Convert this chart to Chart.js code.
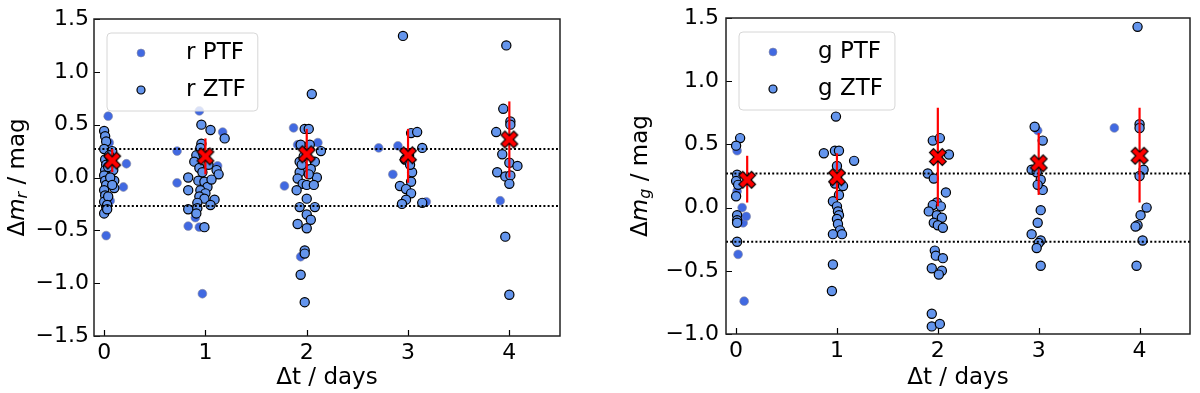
<!DOCTYPE html>
<html>
<head>
<meta charset="utf-8">
<script src="https://cdn.jsdelivr.net/npm/chart.js@4.4.1/dist/chart.umd.min.js"></script>
<style>
  html, body { margin: 0; padding: 0; background: #fff; }
  #wrap { position: relative; width: 1200px; height: 393px; }
  canvas { position: absolute; top: 0; }
  #left { left: 0; }
  #right { left: 600px; }
</style>
</head>
<body>
<div id="wrap">
  <canvas id="left" width="600" height="393"></canvas>
  <canvas id="right" width="600" height="393"></canvas>
</div>
<script>
// ticks
var xTicks = [0, 1, 2, 3, 4];
var rTicks = [-1.5, -1, -0.5, 0, 0.5, 1, 1.5];
var gTicks = [-1, -0.5, 0, 0.5, 1, 1.5];
var spreadLimit = [0.27, -0.27];

// r band, [dt, dm]
var rPTF = [[0.04,0.58],[0.02,-0.55],[0.22,0.13],[0.19,-0.09],[0.05,0.33],[0.06,-0.22],
  [0.94,0.63],[0.72,0.25],[0.72,-0.05],[0.83,-0.46],[0.94,-0.47],[0.97,-1.10],[1.17,0.43],[1.12,0.11],[0.90,-0.38],
  [1.87,0.47],[1.91,0.31],[2.11,0.33],[1.78,-0.08],[1.94,-0.75],
  [2.71,0.28],[2.90,0.30],[2.85,0.03],[3.18,-0.23],
  [3.91,-0.22]];
var rZTF = [[0.00,0.44],[0.01,0.39],[0.02,0.34],[0.00,0.27],[0.08,0.25],[0.01,0.17],[0.02,0.12],[0.01,0.07],
  [0.00,0.02],[0.01,-0.03],[0.02,-0.07],[0.00,-0.12],[0.01,-0.17],[0.00,-0.23],[0.02,-0.28],[0.00,-0.34],
  [0.10,-0.03],[0.10,-0.10],[0.09,0.07],[0.07,0.17],[0.05,0.21],[0.04,-0.18],[0.03,-0.26],[0.06,0.00],
  [0.04,0.10],[0.03,-0.30],[0.08,-0.07],
  [0.96,0.50],[1.05,0.45],[1.19,0.37],[0.96,0.32],[0.95,0.28],[0.91,0.21],[0.89,0.15],[0.94,0.09],[1.11,0.07],
  [1.13,0.03],[0.83,0.00],[0.83,-0.12],[0.93,-0.03],[0.99,-0.04],[1.02,-0.09],[0.95,-0.12],[1.00,-0.15],
  [0.94,-0.18],[0.99,-0.20],[1.09,-0.21],[1.05,-0.26],[0.92,-0.24],[0.83,-0.30],[0.92,-0.29],[0.91,-0.34],
  [0.99,-0.47],[0.98,0.22],[1.03,0.12],[0.97,0.05],[1.06,-0.02],
  [2.05,0.79],[1.98,0.46],[2.02,0.46],[1.94,0.31],[2.03,0.31],[2.14,0.25],[2.08,0.15],[1.93,0.15],[1.98,0.09],
  [2.04,0.08],[1.93,0.05],[2.10,0.00],[1.91,-0.01],[1.96,-0.06],[2.00,-0.07],[2.07,-0.07],[1.90,-0.12],
  [2.00,-0.20],[1.93,-0.28],[2.08,-0.28],[2.00,-0.35],[2.04,-0.40],[1.91,-0.44],[2.00,-0.48],[1.98,-0.69],
  [1.98,-0.72],[1.94,-0.92],[1.98,-1.18],[1.97,0.20],[2.02,0.03],[1.95,0.12],
  [2.95,1.34],[3.03,0.42],[3.09,0.43],[3.14,0.28],[2.97,0.17],[3.04,0.05],[3.03,-0.04],[2.92,-0.08],
  [2.98,-0.11],[3.03,-0.15],[2.98,-0.21],[2.94,-0.25],[3.14,-0.24],[3.01,0.21],[3.02,0.12],
  [3.97,1.25],[3.94,0.65],[4.01,0.53],[4.01,0.50],[3.87,0.43],[3.93,0.22],[4.00,0.14],[4.08,0.11],
  [3.88,0.05],[3.96,0.01],[4.01,0.02],[4.00,-0.06],[3.96,-0.56],[4.00,-1.11]];
var rMeanT = [0.08, 1.0, 2.0, 3.0, 4.0];
var rMean = [0.16, 0.20, 0.22, 0.21, 0.36];
var rLow = [0.05, 0.03, -0.01, -0.05, 0.00];
var rHigh = [0.27, 0.37, 0.46, 0.46, 0.72];

// g band
var gPTF = [[0.01,0.45],[0.01,0.13],[0.06,0.00],[0.07,-0.12],[0.10,-0.07],[0.02,-0.37],[0.08,-0.74],
  [2.99,0.61],[3.75,0.63]];
var gZTF = [[0.04,0.55],[0.00,0.49],[0.01,0.26],[0.00,0.21],[0.02,0.18],[0.00,0.09],[0.01,-0.06],[0.01,-0.10],
  [0.01,-0.12],[0.01,-0.27],
  [0.99,0.72],[0.87,0.43],[0.98,0.45],[1.02,0.45],[1.17,0.37],[1.00,0.33],[0.98,0.19],[1.06,0.17],[1.02,0.10],
  [0.96,0.05],[1.00,0.01],[1.01,-0.03],[1.02,-0.06],[1.00,-0.09],[1.01,-0.13],[1.03,-0.18],[0.96,-0.21],
  [1.05,-0.21],[0.96,-0.45],[0.95,-0.66],
  [1.95,0.53],[2.02,0.55],[2.11,0.42],[1.90,0.27],[1.96,0.23],[2.08,0.12],[1.99,0.04],[1.95,0.02],[2.03,0.01],
  [1.91,-0.03],[1.99,-0.06],[2.04,-0.08],[1.96,-0.12],[2.00,-0.14],[2.05,-0.16],[1.97,-0.34],[1.98,-0.38],
  [2.05,-0.40],[1.94,-0.48],[2.04,-0.50],[2.01,-0.53],[1.94,-0.84],[1.94,-0.94],[2.02,-0.92],
  [2.96,0.64],[3.04,0.53],[2.93,0.30],[2.98,0.28],[3.02,0.22],[3.04,0.14],[2.99,0.18],[3.02,-0.02],
  [2.99,-0.12],[2.93,-0.21],[3.02,-0.26],[3.00,-0.28],[2.98,-0.32],[3.02,-0.46],
  [3.98,1.43],[4.00,0.66],[4.00,0.63],[4.04,0.30],[4.00,0.25],[4.07,0.00],[4.01,-0.06],[3.98,-0.14],
  [3.96,-0.15],[4.03,-0.26],[3.97,-0.46]];
var gMeanT = [0.11, 1.0, 2.0, 3.0, 4.0];
var gMean = [0.22, 0.24, 0.40, 0.35, 0.41];
var gLow = [0.04, 0.06, 0.01, 0.10, 0.04];
var gHigh = [0.41, 0.43, 0.79, 0.59, 0.79];

var FONT = 'DejaVu Sans';
var PTF_FILL = '#4169e1';
var ZTF_FILL = '#6495ed';

function toPoints(pairs) {
  return pairs.map(function (p) { return { x: p[0], y: p[1] }; });
}

function fmt1(v) {
  var s = Math.abs(v).toFixed(1);
  return v < 0 ? '\u2212' + s : s;
}

// filled "X" marker like matplotlib's 'X'
function makeCross() {
  var c = document.createElement('canvas');
  c.width = 22; c.height = 22;
  var ctx = c.getContext('2d');
  var L = 9, w = 2.8;
  var pts = [[w,L],[w,w],[L,w],[L,-w],[w,-w],[w,-L],[-w,-L],[-w,-w],[-L,-w],[-L,w],[-w,w],[-w,L]];
  ctx.translate(11, 11);
  ctx.rotate(Math.PI / 4);
  ctx.beginPath();
  pts.forEach(function (p, i) { if (i) ctx.lineTo(p[0], p[1]); else ctx.moveTo(p[0], p[1]); });
  ctx.closePath();
  ctx.fillStyle = '#ff0000';
  ctx.fill();
  ctx.lineWidth = 1.2;
  ctx.strokeStyle = '#000';
  ctx.stroke();
  return c;
}
var crossImg = makeCross();

var framePlugin = {
  id: 'frame',
  afterDraw: function (chart, args, o) {
    var ctx = chart.ctx, ca = chart.chartArea;
    var xs = chart.scales.x, ys = chart.scales.y;
    ctx.save();
    // inward ticks
    ctx.strokeStyle = '#000';
    ctx.lineWidth = 1.2;
    ctx.beginPath();
    xs.ticks.forEach(function (t) {
      var px = Math.round(xs.getPixelForValue(t.value)) + 0.5;
      ctx.moveTo(px, ca.bottom); ctx.lineTo(px, ca.bottom - 6);
    });
    ys.ticks.forEach(function (t) {
      var py = Math.round(ys.getPixelForValue(t.value)) + 0.5;
      ctx.moveTo(ca.left, py); ctx.lineTo(ca.left + 6, py);
    });
    ctx.stroke();
    // spines
    ctx.strokeStyle = '#222';
    ctx.lineWidth = 1.5;
    ctx.strokeRect(ca.left, ca.top, ca.right - ca.left, ca.bottom - ca.top);

    // legend box
    var ds = chart.data.datasets;
    ctx.font = '23px ' + FONT;
    var tw = Math.max(ctx.measureText(ds[0].label).width, ctx.measureText(ds[1].label).width);
    var bx = ca.left + 13, by = ca.top + 14, bw = 80 + tw + 11, bh = 78;
    ctx.beginPath();
    ctx.roundRect(bx, by, bw, bh, 4);
    ctx.fillStyle = 'rgba(255,255,255,0.8)';
    ctx.fill();
    ctx.strokeStyle = '#d6d6d6';
    ctx.lineWidth = 1;
    ctx.stroke();
    [0, 1].forEach(function (i) {
      var cy = by + 20 + i * 37;
      ctx.beginPath();
      ctx.arc(bx + 34, cy, 4, 0, Math.PI * 2);
      ctx.fillStyle = ds[i].backgroundColor;
      ctx.fill();
      ctx.lineWidth = ds[i].borderWidth;
      ctx.strokeStyle = ds[i].borderColor;
      ctx.stroke();
      ctx.fillStyle = '#000';
      ctx.textBaseline = 'middle';
      ctx.textAlign = 'left';
      ctx.fillText(ds[i].label, bx + 79, cy);
    });

    // y title with subscript
    var parts = [
      { t: '\u0394', f: '23px ' + FONT, dy: 0 },
      { t: 'm', f: 'italic 23px ' + FONT, dy: 0 },
      { t: o.sub, f: 'italic 16px ' + FONT, dy: 5 },
      { t: ' / mag', f: '23px ' + FONT, dy: 0 }
    ];
    var total = 0;
    parts.forEach(function (p) { ctx.font = p.f; p.w = ctx.measureText(p.t).width; total += p.w; });
    ctx.translate(o.titleX, (ca.top + ca.bottom) / 2);
    ctx.rotate(-Math.PI / 2);
    ctx.textBaseline = 'middle';
    var x0 = -total / 2;
    parts.forEach(function (p) {
      ctx.font = p.f;
      ctx.fillText(p.t, x0, p.dy);
      x0 += p.w;
    });
    ctx.restore();
  }
};

function buildChart(id, band, ptf, ztf, meanT, mean, low, high, yTicks, geo) {
  var datasets = [
    { label: band + ' PTF', data: toPoints(ptf), backgroundColor: PTF_FILL,
      borderColor: 'rgba(140,140,160,0.6)', borderWidth: 1, pointRadius: 4.4, order: 6 },
    { label: band + ' ZTF', data: toPoints(ztf), backgroundColor: ZTF_FILL,
      borderColor: '#000', borderWidth: 1.2, pointRadius: 4.6, order: 5 }
  ];
  spreadLimit.forEach(function (lim) {
    datasets.push({ data: [{ x: -0.1, y: lim }, { x: 4.5, y: lim }], showLine: true,
      borderColor: '#000', borderWidth: 2, borderDash: [2, 2.2], pointRadius: 0, order: 4 });
  });
  meanT.forEach(function (t, i) {
    datasets.push({ data: [{ x: t, y: low[i] }, { x: t, y: high[i] }], showLine: true,
      borderColor: '#ff0000', borderWidth: 2.2, pointRadius: 0, order: 3 });
  });
  datasets.push({ data: meanT.map(function (t, i) { return { x: t, y: mean[i] }; }),
    pointStyle: crossImg, pointRadius: 9, order: 1 });

  return new Chart(document.getElementById(id), {
    type: 'scatter',
    data: { datasets: datasets },
    options: {
      responsive: false,
      animation: false,
      layout: { padding: { top: geo.top, right: geo.right, left: 0, bottom: 0 } },
      plugins: {
        legend: { display: false },
        tooltip: { enabled: false },
        frame: { sub: band, titleX: geo.titleX }
      },
      scales: {
        x: {
          type: 'linear', min: -0.1, max: 4.5,
          afterBuildTicks: function (s) { s.ticks = xTicks.map(function (v) { return { value: v }; }); },
          afterFit: function (s) { s.height = geo.xh; },
          grid: { display: false, drawTicks: false },
          border: { display: false },
          ticks: { font: { family: FONT, size: 22, lineHeight: 1 }, color: '#000', padding: 6,
            callback: function (v) { return String(v); } },
          title: { display: true, text: '\u0394t / days', color: '#000',
            font: { family: FONT, size: 23 }, padding: { top: 0, bottom: 1 } }
        },
        y: {
          type: 'linear', min: yTicks[0], max: yTicks[yTicks.length - 1],
          afterBuildTicks: function (s) { s.ticks = yTicks.map(function (v) { return { value: v }; }); },
          afterFit: function (s) { s.width = geo.yw; },
          grid: { display: false, drawTicks: false },
          border: { display: false },
          ticks: { font: { family: FONT, size: 22, lineHeight: 1 }, color: '#000', padding: geo.ypad,
            callback: fmt1 }
        }
      }
    },
    plugins: [framePlugin]
  });
}

buildChart('left', 'r', rPTF, rZTF, rMeanT, rMean, rLow, rHigh, rTicks,
  { top: 19, right: 40, xh: 57, yw: 94, ypad: 5, titleX: 18 });
buildChart('right', 'g', gPTF, gZTF, gMeanT, gMean, gLow, gHigh, gTicks,
  { top: 11, right: 3, xh: 59, yw: 126, ypad: 7, titleX: 41 });
</script>
</body>
</html>
